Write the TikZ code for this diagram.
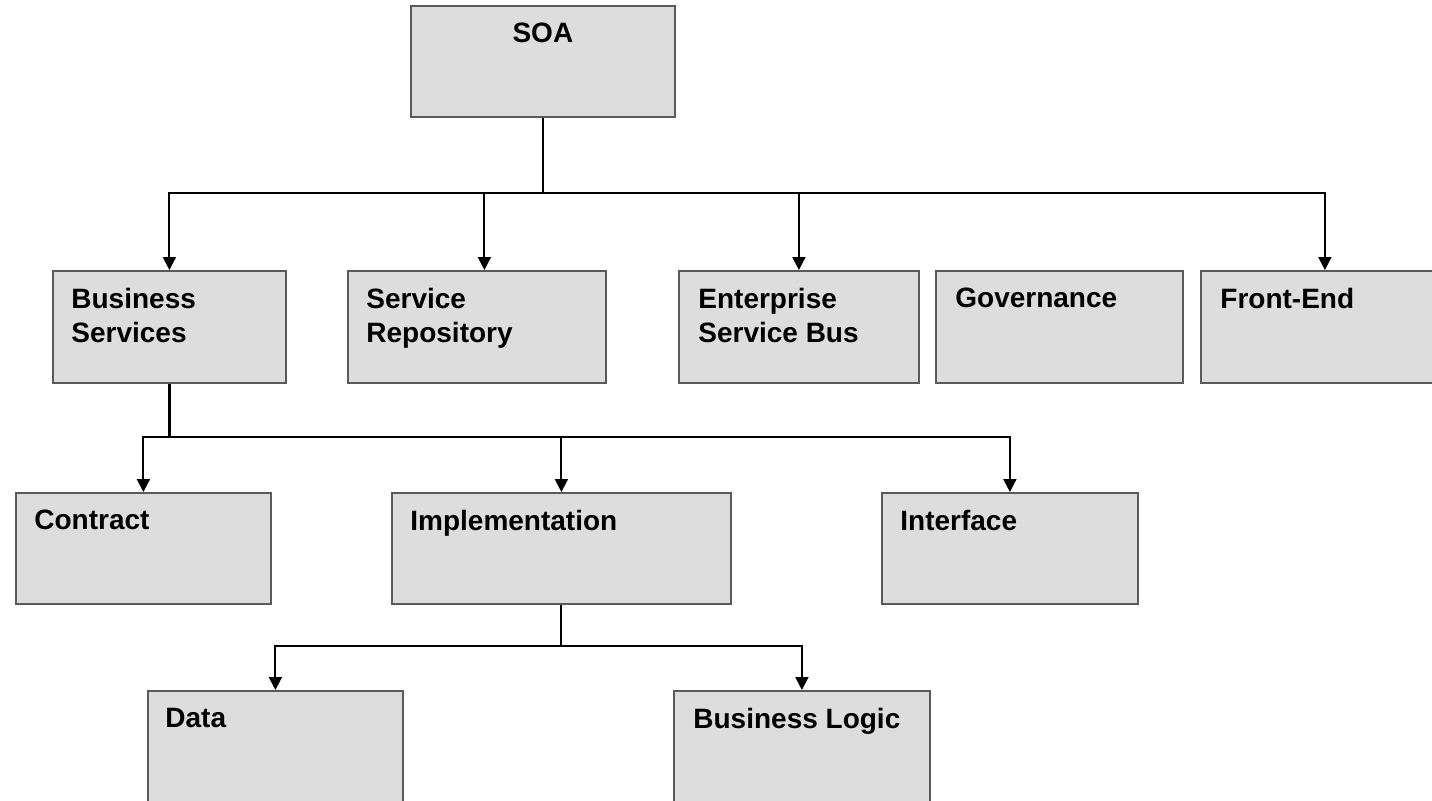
\documentclass[tikz,border=0pt]{standalone}
\usepackage{fontspec}
\setmainfont{Liberation Sans}
\usetikzlibrary{arrows.meta,calc}
\definecolor{boxfill}{HTML}{DDDDDD}
\definecolor{boxline}{HTML}{5A5A5A}
\tikzset{
  box/.style={draw=boxline, fill=boxfill, line width=0.9pt, inner sep=0pt, anchor=north west},
  lbl/.style={inner sep=0pt, anchor=north west, align=left, font=\fontsize{14}{17}\selectfont\bfseries},
  conn/.style={line width=1pt, black},
  arr/.style={conn, -{Triangle[width=6.5pt,length=6.5pt]}},
}
\begin{document}
\begin{tikzpicture}[x=0.5pt,y=-0.5pt]
\useasboundingbox (0,0) rectangle (1432,800);
% boxes
\node[box, minimum width=132pt, minimum height=55.5pt] (soa) at (410,5) {};
\node[box, minimum width=116.5pt, minimum height=56pt] (bs) at (52,270) {};
\node[box, minimum width=129pt, minimum height=56pt] (sr) at (347,270) {};
\node[box, minimum width=120pt, minimum height=56pt] (esb) at (678,270) {};
\node[box, minimum width=123.5pt, minimum height=56pt] (gov) at (935,270) {};
\node[box, minimum width=124pt, minimum height=56pt] (fe) at (1200,270) {};
\node[box, minimum width=127.5pt, minimum height=55.5pt] (con) at (15,492) {};
\node[box, minimum width=169.5pt, minimum height=55.5pt] (imp) at (391,492) {};
\node[box, minimum width=128pt, minimum height=55.5pt] (itf) at (881,492) {};
\node[box, minimum width=127.5pt, minimum height=61pt] (dat) at (147,690) {};
\node[box, minimum width=128pt, minimum height=61pt] (bl) at (673,690) {};
% labels
\node[lbl, anchor=north] (soa-t) at ([yshift=-9pt]soa.north) {SOA};
\node[lbl] (bs-t) at ([xshift=9.5pt,yshift=-9pt]bs.north west) {Business\\Services};
\node[lbl] (sr-t) at ([xshift=9.5pt,yshift=-9pt]sr.north west) {Service\\Repository};
\node[lbl] (esb-t) at ([xshift=10pt,yshift=-9pt]esb.north west) {Enterprise\\Service Bus};
\node[lbl] (gov-t) at ([xshift=10pt,yshift=-9pt]gov.north west) {Governance};
\node[lbl] (fe-t) at ([xshift=10pt,yshift=-9pt]fe.north west) {Front-End};
\node[lbl] (con-t) at ([xshift=9.5pt,yshift=-9pt]con.north west) {Contract};
\node[lbl] (imp-t) at ([xshift=9.5pt,yshift=-9pt]imp.north west) {Implementation};
\node[lbl] (itf-t) at ([xshift=9.5pt,yshift=-9pt]itf.north west) {Interface};
\node[lbl] (dat-t) at ([xshift=9pt,yshift=-9pt]dat.north west) {Data};
\node[lbl] (bl-t) at ([xshift=10pt,yshift=-9pt]bl.north west) {Business Logic};
% junctions
\coordinate (j1) at (soa.south |- 0,193);
\coordinate (j2) at (bs.south |- 0,437);
\coordinate (j3) at (imp.south |- 0,646);
% connectors
\draw[conn, line width=1.3pt] (soa.south) -- (j1);
\draw[arr] (j1) -| (bs.north);
\draw[arr] (j1) -| ([xshift=3.75pt]sr.north);
\draw[arr] (j1) -| (esb.north);
\draw[arr] (j1) -| (fe.north);
\draw[conn, line width=1.2pt] (bs.south) -- (j2);
\draw[arr] (j2) -| (con.north);
\draw[arr] (j2) -| (imp.north);
\draw[arr] (j2) -| (itf.north);
\draw[conn] (imp.south) -- (j3);
\draw[arr] (j3) -| (dat.north);
\draw[arr] (j3) -| (bl.north);
\end{tikzpicture}
\end{document}
